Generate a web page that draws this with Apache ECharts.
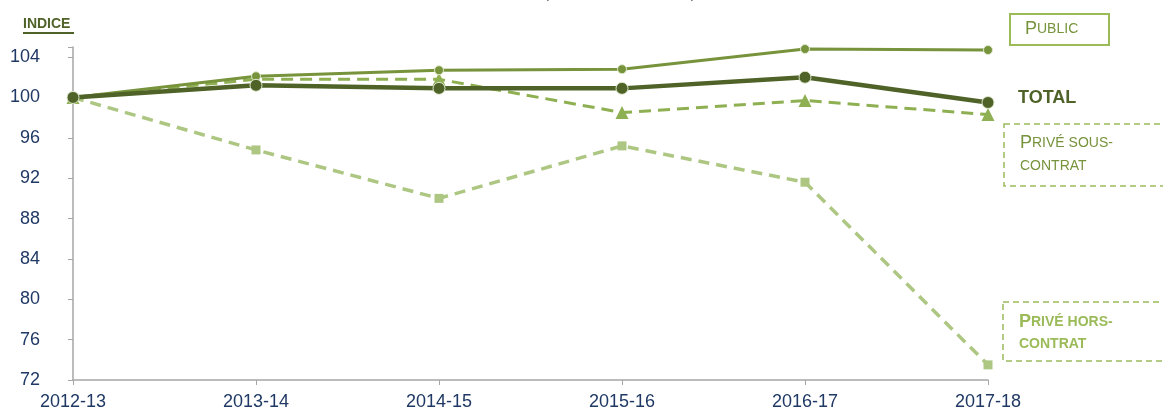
<!DOCTYPE html>
<html><head><meta charset="utf-8">
<script src="https://cdn.jsdelivr.net/npm/echarts@6/dist/echarts.min.js"></script>
<style>html,body{margin:0;padding:0;background:#fff}#c{width:1163px;height:411px}</style>
</head><body><div id="c"></div>
<script>
const categories = ['2012-13','2013-14','2014-15','2015-16','2016-17','2017-18'];
const publicVals = [100, 102.1, 102.7, 102.8, 104.8, 104.7];
const totalVals = [100, 101.2, 100.9, 100.9, 102.0, 99.5];
const sousContratVals = [100, 101.8, 101.8, 98.5, 99.7, 98.3];
const horsContratVals = [100, 94.8, 90.0, 95.2, 91.6, 73.5];
const yTicks = {min: 72, max: 105, interval: 4};

const chart = echarts.init(document.getElementById('c'), null, {renderer: 'canvas'});
const F = 'Liberation Sans, Arial, sans-serif';
function sc(color, bold, lh) {
  const w = bold ? 'bold' : 'normal';
  return {
    big: {fontSize: 18, fill: color, fontFamily: F, fontWeight: w, lineHeight: lh},
    sm: {fontSize: 14, fill: color, fontFamily: F, fontWeight: w, lineHeight: lh}
  };
}
chart.setOption({
  animation: false,
  grid: {left: 73, right: 175, top: 47, bottom: 30},
  xAxis: {
    type: 'category', data: categories, boundaryGap: false,
    axisLine: {lineStyle: {color: '#a6a6a6', width: 1.5}},
    axisTick: {show: true, length: 5, lineStyle: {color: '#a6a6a6'}},
    axisLabel: {color: '#1f3864', fontSize: 18, fontFamily: F, margin: 13, showMinLabel: true, showMaxLabel: true, interval: 0},
    splitLine: {show: false}
  },
  yAxis: {
    type: 'value', min: yTicks.min, max: yTicks.max, interval: yTicks.interval,
    axisLine: {show: true, lineStyle: {color: '#a6a6a6', width: 1.5}},
    axisTick: {show: true, length: 5, lineStyle: {color: '#a6a6a6'}},
    axisLabel: {color: '#1f3864', fontSize: 18, fontFamily: F, margin: 33,
      formatter: v => (v % 4 === 0 ? String(v) : '')},
    splitLine: {show: false}
  },
  series: [
    {name: 'Privé hors-contrat', type: 'line', data: horsContratVals, symbol: 'rect', symbolSize: 9,
      lineStyle: {color: '#adc783', width: 3.5, type: [11, 7]}, itemStyle: {color: '#adc783'}, z: 2},
    {name: 'Privé sous-contrat', type: 'line', data: sousContratVals, symbol: 'triangle', symbolSize: 13,
      lineStyle: {color: '#8fb052', width: 3, type: [12, 7]}, itemStyle: {color: '#8fb052'}, z: 3},
    {name: 'Public', type: 'line', data: publicVals, symbol: 'circle', symbolSize: 9,
      lineStyle: {color: '#77933c', width: 3}, itemStyle: {color: '#77933c', borderColor: '#dfe8cf', borderWidth: 1}, z: 4},
    {name: 'Total', type: 'line', data: totalVals, symbol: 'circle', symbolSize: 12,
      lineStyle: {color: '#4f6228', width: 4.5}, itemStyle: {color: '#4f6228', borderColor: '#dfe8cf', borderWidth: 1}, z: 5}
  ],
  graphic: [
    {type: 'text', left: 624 - 80, top: -14, style: {text: '(base 100 en 2012-13)', fontSize: 15, fontFamily: F, fill: '#595959'}},
    {type: 'text', left: 23, top: 17, style: {text: 'INDICE', fontSize: 14, fontWeight: 'bold', fontFamily: F, fill: '#4f6228'}},
    {type: 'line', shape: {x1: 23, y1: 33, x2: 74, y2: 33}, style: {stroke: '#4f6228', lineWidth: 2}},
    {type: 'rect', shape: {x: 1010, y: 14, width: 99, height: 31}, style: {fill: 'none', stroke: '#9bbb59', lineWidth: 2}},
    {type: 'text', left: 1025, top: 20, style: {text: '{big|P}{sm|UBLIC}', rich: sc('#77933c', false, 20)}},
    {type: 'text', left: 1018, top: 89, style: {text: 'TOTAL', fontSize: 18, fontWeight: 'bold', fontFamily: F, fill: '#4f6228'}},
    {type: 'rect', shape: {x: 1004, y: 124, width: 180, height: 62}, style: {fill: 'none', stroke: '#9bbb59', lineWidth: 1.5, lineDash: [6, 4]}},
    {type: 'text', left: 1020, top: 134, style: {text: '{big|P}{sm|RIVÉ SOUS-}\n{sm|CONTRAT}', rich: sc('#77933c', false, 23)}},
    {type: 'rect', shape: {x: 1003, y: 302, width: 180, height: 59}, style: {fill: 'none', stroke: '#9bbb59', lineWidth: 1.5, lineDash: [6, 4]}},
    {type: 'text', left: 1019, top: 313, style: {text: '{big|P}{sm|RIVÉ HORS-}\n{sm|CONTRAT}', rich: sc('#9bbb59', true, 22)}}
  ]
});
</script></body></html>
